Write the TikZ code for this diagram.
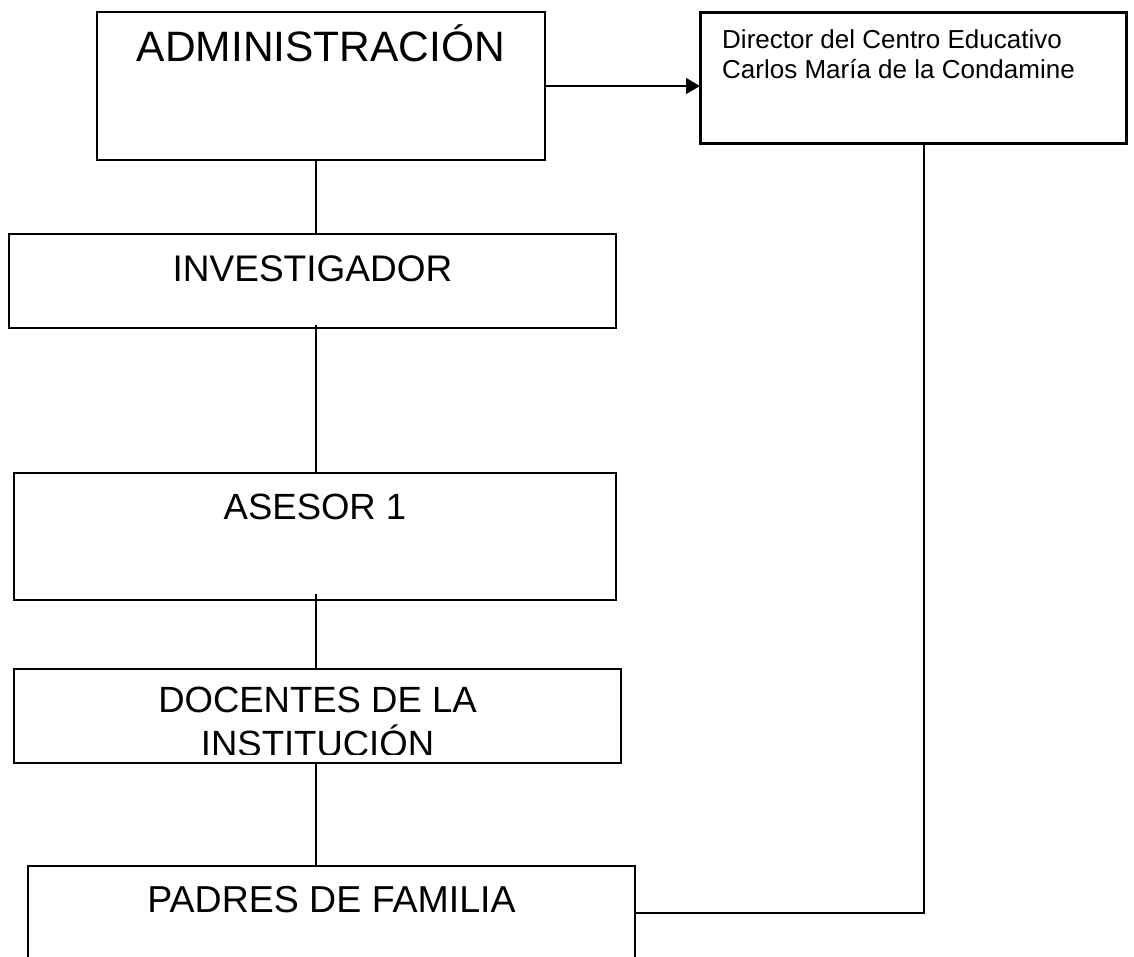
\documentclass[tikz,border=0pt]{standalone}
\usepackage{fontspec}
\setmainfont{Liberation Sans}
\usetikzlibrary{arrows.meta}
\begin{document}
\begin{tikzpicture}[x=1pt,y=-1pt,
  box/.style={draw=black, line width=1.3pt, fill=white, anchor=north west, inner sep=0pt, outer sep=0pt},
  thickbox/.style={box, line width=3pt},
  bigtxt/.style={font=\fontsize{37}{44}\selectfont, anchor=base, inner sep=0pt},
  link/.style={draw=black, line width=1.5pt}]
\useasboundingbox (0,0) rectangle (1134,956);
\clip (0,0) rectangle (1134,956);
% boxes
\node[box, minimum width=448pt, minimum height=148pt] (admin) at (97,12) {};
\node[thickbox, minimum width=426pt, minimum height=131pt] (dir) at (700,12) {};
\node[box, minimum width=607pt, minimum height=94pt] (inv) at (9,234) {};
\node[box, minimum width=602pt, minimum height=127pt] (ases) at (14,473) {};
\node[box, minimum width=607pt, minimum height=94pt] (doc) at (14,669) {};
\node[box, minimum width=607pt, minimum height=130pt] (padres) at (28,866) {};
% texts
\node[bigtxt, font=\fontsize{42.5}{48}\selectfont] (admintxt) at ([yshift=-49pt]admin.north) {ADMINISTRACIÓN};
\node[anchor=north west, inner sep=0pt, align=left, font=\fontsize{26}{30}\selectfont] (dirtxt) at (722,29) {Director del Centro Educativo\\Carlos María de la Condamine};
\node[bigtxt] (invtxt) at ([yshift=-47pt]inv.north) {INVESTIGADOR};
\node[bigtxt, font=\fontsize{36.5}{44}\selectfont] (asestxt) at ([yshift=-46pt]ases.north) {ASESOR 1};
\begin{scope}
  \clip ([shift={(1pt,1pt)}]doc.north west) rectangle ([yshift=9pt]doc.south east);
  \node[anchor=north, inner sep=0pt, align=center, font=\fontsize{36.5}{44}\selectfont] (doctxt) at ([yshift=-18pt]doc.north) {DOCENTES DE LA\\INSTITUCIÓN};
\end{scope}
\node[bigtxt, font=\fontsize{37.5}{44}\selectfont] (padrestxt) at ([yshift=-46pt]padres.north) {PADRES DE FAMILIA};
% connectors
\coordinate (spine) at (316,0);
\coordinate (turn) at (924,913);
\draw[link, -{Triangle[length=14pt,width=16pt]}] (admin.east) -- (admin.east -| dir.west);
\draw[link] (admin.south -| spine) -- (inv.north -| spine);
\draw[link] ([yshift=3pt]inv.south -| spine) -- (ases.north -| spine);
\draw[link] ([yshift=6pt]ases.south -| spine) -- (doc.north -| spine);
\draw[link] (doc.south -| spine) -- (padres.north -| spine);
\draw[link] (dir.south -| turn) -- (turn) -- (turn -| padres.east);
\end{tikzpicture}
\end{document}
